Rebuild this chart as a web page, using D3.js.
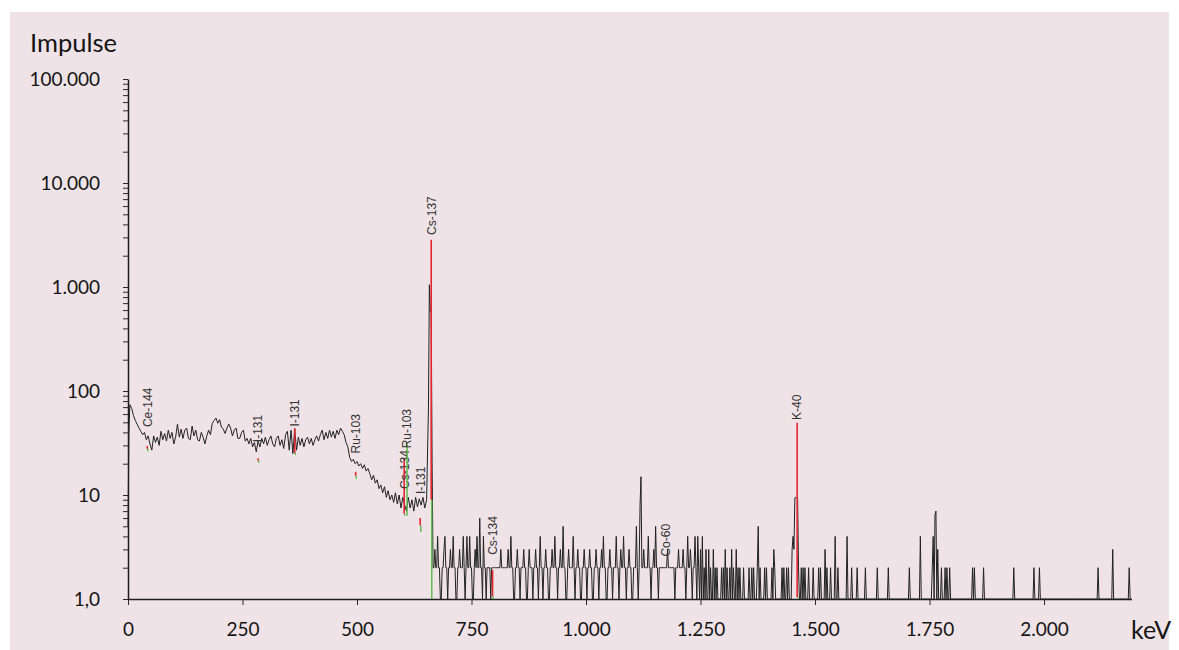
<!DOCTYPE html>
<html>
<head>
<meta charset="utf-8">
<script src="https://cdn.jsdelivr.net/npm/d3@7"></script>
<style>
  html, body { margin: 0; padding: 0; background: #ffffff; }
  svg { display: block; }
</style>
</head>
<body>
<svg id="chart" width="1179" height="650"></svg>
<script>
// ---- Gamma spectrum: counts per channel (keV) ----

// Low-energy continuum (0 ... 652 keV)
const lowEnergy = [0, 2, ...d3.range(4, 653, 4)];
const lowCounts = [
  5, 40,
  74, 68, 58, 52, 48, 44, 41, 38, 40, 34,
  37, 31, 27, 37, 32, 36, 30, 41, 34, 39,
  33, 42, 35, 40, 31, 36, 48, 36, 43, 35,
  42, 44, 35, 34, 46, 37, 42, 34, 33, 40,
  36, 31, 37, 42, 38, 49, 52, 55, 49, 53,
  45, 43, 39, 44, 48, 44, 37, 42, 44, 35,
  35, 40, 42, 33, 35, 31, 35, 29, 32, 26,
  33, 29, 35, 31, 36, 30, 34, 37, 31, 29,
  35, 37, 30, 34, 28, 38, 41, 27, 42, 25,
  43, 27, 36, 30, 35, 29, 34, 36, 31, 35,
  30, 34, 37, 33, 38, 42, 34, 40, 35, 42,
  36, 41, 35, 42, 38, 44, 41, 38, 32, 29,
  23, 21, 22, 20, 21, 19, 20, 18, 19.5, 17,
  18, 16, 14, 15.5, 13, 14, 11.5, 12.5, 10.5, 12,
  9.5, 11, 9, 10, 8.5, 10.5, 8.2, 10, 7.5, 9.5,
  8, 7, 9.5, 7.5, 9, 7, 9.5, 7.7, 9.2, 8,
  9.5, 7.5, 9
];

// Cs-137 photopeak channels
const peakEnergy = [656, 658, 660, 662, 664];
const peakCounts = [70, 1050, 580, 600, 20];

// Dense low-count region, 2 keV channels starting at 666 keV
const noiseStart = 666;
const noiseWidth = 2;
const noiseCounts = [
  2, 2, 3, 2, 2, 4, 2, 2, 1, 1,
  2, 2, 3, 4, 2, 2, 1, 2, 2, 3,
  2, 2, 4, 2, 2, 1, 1, 2, 2, 3,
  2, 2, 2, 4, 2, 1, 2, 4, 2, 2,
  4, 2, 2, 1, 1, 2, 3, 2, 4, 2,
  2, 6, 2, 2, 1, 4, 2, 2, 1, 2,
  2, 2, 2, 1, 2, 2, 2, 2, 2, 2,
  2, 2, 2, 2, 3, 2, 2, 2, 2, 2,
  2, 2, 3, 2, 2, 4, 2, 2, 1, 1,
  2, 2, 3, 2, 2, 1, 2, 2, 2, 3,
  2, 2, 1, 1, 2, 3, 2, 2, 2, 1,
  2, 2, 3, 2, 2, 1, 2, 4, 2, 2,
  1, 2, 2, 3, 2, 2, 1, 1, 2, 2,
  3, 2, 2, 4, 2, 2, 1, 2, 2, 3,
  2, 2, 5, 2, 2, 1, 1, 2, 3, 2,
  2, 2, 2, 4, 2, 1, 2, 2, 3, 2,
  2, 1, 1, 2, 2, 3, 2, 2, 1, 2,
  2, 3, 2, 2, 1, 1, 2, 2, 3, 2,
  2, 1, 2, 2, 3, 2, 4, 2, 2, 1,
  1, 2, 2, 3, 2, 2, 1, 2, 2, 2,
  4, 2, 2, 1, 2, 3, 2, 2, 4, 2,
  2, 1, 2, 2, 3, 2, 2, 1, 1, 2,
  2, 2, 5, 2, 1, 2, 8, 15, 2, 2,
  3, 2, 2, 2, 2, 4, 2, 2, 1, 2,
  2, 3, 2, 5, 2, 2, 1, 2, 2, 2,
  2, 2, 2, 2, 2, 2, 3, 2, 2, 2,
  2, 2, 2, 2, 1, 2, 2, 2, 3, 2,
  2, 2, 2, 3, 2, 2, 1, 2, 4, 2,
  2, 3, 2, 1, 2, 2, 4, 2, 1, 4,
  2, 1, 3, 1, 4, 1, 2, 1, 3, 1
];

// Sparse high-energy region (1266 ... 2190 keV): channels with counts, others empty
const tailStart = 1266;
const tailEnd = 2190;
const tailEnergy = [
  1267, 1271, 1278, 1282, 1285, 1296, 1300, 1303, 1308, 1314,
  1318, 1322, 1327, 1332, 1336, 1343, 1356, 1362, 1365, 1373,
  1376, 1380, 1390, 1394, 1405, 1409, 1412, 1427, 1431, 1438,
  1442, 1449, 1452, 1454, 1456, 1458, 1460, 1462, 1464, 1470,
  1474, 1478, 1485, 1496, 1507, 1511, 1522, 1525, 1533, 1544,
  1550, 1569, 1580, 1591, 1609, 1635, 1660, 1706, 1729, 1755,
  1758, 1761, 1764, 1767, 1776, 1783, 1787, 1794, 1843, 1847,
  1867, 1933, 1977, 1990, 2117, 2149, 2185
];
const tailCounts = [
  3, 2, 3, 2, 2, 2, 2, 3, 2, 2,
  3, 2, 3, 2, 2, 2, 2, 2, 2, 2,
  5, 2, 2, 2, 2, 3, 2, 2, 2, 2,
  2, 3, 4, 3, 9.4, 9.5, 9.3, 9.2, 2, 2,
  2, 2, 2, 2, 2, 2, 3, 2, 2, 4,
  2, 4, 2, 2, 2, 2, 2, 2, 4, 2,
  4, 6.5, 7, 3, 2, 2, 2, 2, 2, 2,
  2, 2, 2, 2, 2, 3, 2
];

// Identified nuclides: red = net peak, green = background below it
const markerNuclide = ["Ce-144", "I-131", "I-131", "Ru-103", "Cs-134", "Ru-103", "I-131", "Cs-137", "Cs-134", "Co-60", "K-40"];
const markerEnergy  = [42, 284, 364, 497, 603, 608, 638, 662, 796, 1173, 1461];
const markerPeak    = [29.5, 22.5, 44, 16.7, 22.7, 31.7, 6.0, 2850, 1.9, null, 49.4];
const markerBase    = [27.8, 21.4, 25.4, 15.3, 6.6, 31.7, 5.1, 9, 1.06, null, 1.04];
const markerFloor   = [26.4, 20.3, 24.3, 14.3, 6.3, 6.3, 4.4, 1, 1, null, 1];
const markerLabelAt = [44, 31.5, 44.5, 24.5, 11.2, 27.5, 10, 3100, 2.6, 2.5, 51.5];

// Axis ticks
const xTickValues = [0, 250, 500, 750, 1000, 1250, 1500, 1750, 2000];
const xTickLabels = ["0", "250", "500", "750", "1.000", "1.250", "1.500", "1.750", "2.000"];
const yDecades = [1, 10, 100, 1000, 10000, 100000];
const yTickLabels = ["1,0", "10", "100", "1.000", "10.000", "100.000"];

// ---- Layout ----
const W = 1179, H = 650;
const svg = d3.select("#chart");

svg.append("rect")
  .attr("x", 10).attr("y", 12)
  .attr("width", W - 20).attr("height", H - 12)
  .attr("fill", "#efe3e7");

const x = d3.scaleLinear().domain([0, 2191]).range([128, 1131.5]);
const y = d3.scaleLog().domain([1, 100000]).range([599, 79]);
const yv = v => y(Math.max(1, v));

// ---- Assemble the channel series ----
const points = [];
lowEnergy.forEach((e, i) => points.push([e, lowCounts[i]]));
peakEnergy.forEach((e, i) => points.push([e, peakCounts[i]]));
noiseCounts.forEach((c, i) => points.push([noiseStart + i * noiseWidth, c]));
const tailChannels = d3.range(tailStart, tailEnd + 1, 2).map(e => [e, 0]);
tailEnergy.forEach((e, i) => {
  const k = Math.round((e - tailStart) / 2);
  tailChannels[k][1] = tailCounts[i];
});
tailChannels.forEach(p => points.push(p));

// ---- Axes ----
const yTickValues = [];
yDecades.forEach(d => {
  if (d === 100000) { yTickValues.push(d); return; }
  for (let m = 1; m <= 9; m++) yTickValues.push(d * m);
});

const yAxis = d3.axisLeft(y)
  .tickValues(yTickValues)
  .tickSize(5)
  .tickSizeOuter(0)
  .tickPadding(23)
  .tickFormat(v => {
    const idx = yDecades.indexOf(v);
    return idx >= 0 ? yTickLabels[idx] : "";
  });

const xAxis = d3.axisBottom(x)
  .tickValues(xTickValues)
  .tickSize(6)
  .tickSizeOuter(0)
  .tickPadding(18)
  .tickFormat((v, i) => xTickLabels[i]);

function styleAxis(g) {
  g.select(".domain").attr("stroke", "#1e1e1e").attr("stroke-width", 1.5);
  g.selectAll(".tick line").attr("stroke", "#2a2a2a").attr("stroke-width", 1);
  g.selectAll(".tick text")
    .attr("fill", "#151515")
    .style("font-family", "Lato, 'Open Sans', sans-serif")
    .style("font-size", "19px");
}

svg.append("g").attr("transform", "translate(128,0)").call(yAxis).call(styleAxis);
svg.append("g").attr("transform", "translate(0,599)").call(xAxis).call(styleAxis);

// ---- Spectrum line ----
const line = d3.line().x(d => x(d[0])).y(d => yv(d[1]));
svg.append("path")
  .datum(points)
  .attr("fill", "none")
  .attr("stroke", "#222")
  .attr("stroke-width", 1)
  .attr("stroke-linejoin", "miter")
  .attr("d", line);

// ---- Nuclide markers ----
const mk = svg.append("g");
markerNuclide.forEach((name, i) => {
  const px = x(markerEnergy[i]);
  if (markerPeak[i] !== null && markerPeak[i] > markerBase[i]) {
    mk.append("line")
      .attr("x1", px).attr("x2", px)
      .attr("y1", yv(markerPeak[i])).attr("y2", yv(markerBase[i]))
      .attr("stroke", "#e3262a").attr("stroke-width", 1.6);
  }
  if (markerBase[i] !== null && markerBase[i] > markerFloor[i]) {
    mk.append("line")
      .attr("x1", px + 0.6).attr("x2", px + 0.6)
      .attr("y1", yv(markerBase[i])).attr("y2", yv(markerFloor[i]))
      .attr("stroke", "#58b947").attr("stroke-width", 1.4);
  }
  mk.append("text")
    .attr("transform", `translate(${px},${yv(markerLabelAt[i]) - 1}) rotate(-90)`)
    .attr("dy", "0.36em")
    .attr("text-anchor", "start")
    .attr("fill", "#333")
    .style("font-family", "'Liberation Sans', Arial, sans-serif")
    .style("font-size", "12px")
    .text(name);
});

// ---- Axis titles ----
svg.append("text")
  .attr("x", 30).attr("y", 52)
  .attr("fill", "#151515")
  .style("font-family", "Lato, 'Open Sans', sans-serif")
  .style("font-size", "25.5px")
  .text("Impulse");

svg.append("text")
  .attr("x", 1131).attr("y", 639)
  .attr("fill", "#151515")
  .style("font-family", "Lato, 'Open Sans', sans-serif")
  .style("font-size", "25px")
  .text("keV");
</script>
</body>
</html>
